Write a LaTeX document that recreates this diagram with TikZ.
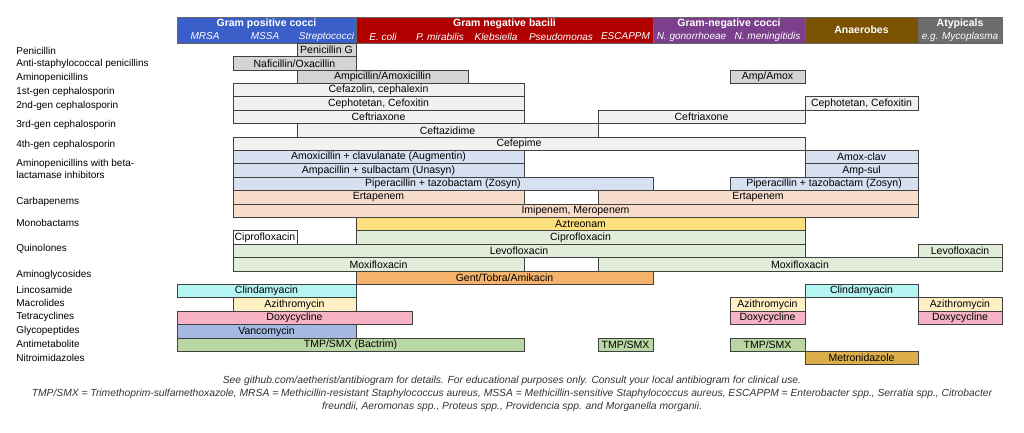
\documentclass[tikz,border=0pt]{standalone}
\usepackage{fontspec}
\setmainfont{Liberation Sans}
\usetikzlibrary{positioning}
\definecolor{gpos}{HTML}{3A5FC8}
\definecolor{gneg}{HTML}{B00000}
\definecolor{gnc}{HTML}{7B3F8C}
\definecolor{anae}{HTML}{7A5200}
\definecolor{atyp}{HTML}{6D6D6D}
\definecolor{cpen}{HTML}{D4D4D4}
\definecolor{ceph}{HTML}{F1F1F1}
\definecolor{cbli}{HTML}{D6E0F1}
\definecolor{carb}{HTML}{F8DCCB}
\definecolor{mono}{HTML}{FDE07E}
\definecolor{quin}{HTML}{E1EDD9}
\definecolor{amin}{HTML}{F5B26B}
\definecolor{linc}{HTML}{B4F5F3}
\definecolor{macr}{HTML}{FFF0C4}
\definecolor{tetr}{HTML}{F7B3C6}
\definecolor{glyc}{HTML}{A5B8E0}
\definecolor{anti}{HTML}{B8D7A3}
\definecolor{nitr}{HTML}{DCAE4A}
\tikzset{every picture/.style={line width=0.75pt}}
\tikzset{
  drug/.style={draw=black!75, inner sep=0pt, minimum height=13.4pt, font=\fontsize{10.5}{11}\selectfont},
  head/.style={draw=black!60, inner sep=0pt, text=white, align=center},
  cls/.style={anchor=west, inner sep=0pt, font=\fontsize{10}{12}\selectfont, align=left}
}
% one bar of the chart: name, row, left, right, colour, text
\newcommand\drugbar[6]{%
  \pgfmathsetmacro\bw{#4-#3}%
  \pgfmathsetmacro\bx{(#3+#4)/2}%
  \pgfmathsetmacro\by{49.9+13.4*#2}%
  \node[drug, fill=#5, minimum width=\bw pt] (#1) at (\bx,\by) {#6};}
% one header block: name, left, right, colour, text
\newcommand\headbar[5]{%
  \pgfmathsetmacro\bw{#3-#2}%
  \pgfmathsetmacro\bx{(#2+#3)/2}%
  \node[head, fill=#4, minimum width=\bw pt, minimum height=26pt] (#1) at (\bx,30) {#5};}

\begin{document}
\begin{tikzpicture}[x=1pt,y=1pt,yscale=-1,xscale=1]
\useasboundingbox (0,0) rectangle (1024,432);

%header blocks
\headbar{hgp}{177}{356}{gpos}{}
\headbar{hgn}{356}{653}{gneg}{}
\headbar{hgc}{653}{805}{gnc}{}
\headbar{han}{805}{918}{anae}{\bfseries\fontsize{10.5}{11}\selectfont Anaerobes}
\headbar{hat}{918}{1002}{atyp}{}
\node[text=white, font=\bfseries\fontsize{10.5}{11}\selectfont] (tgp) at (266.5,23.5) {Gram positive cocci};
\node[text=white, font=\bfseries\fontsize{10.5}{11}\selectfont] (tgn) at (504.5,23.5) {Gram negative bacili};
\node[text=white, font=\bfseries\fontsize{10.5}{11}\selectfont] (tgc) at (729,23.5) {Gram-negative cocci};
\node[text=white, font=\bfseries\fontsize{10.5}{11}\selectfont] (tat) at (960,23.5) {Atypicals};
\foreach \nm/\cx/\txt in {mrsa/205/MRSA, mssa/265/MSSA, strep/326.5/Streptococci, ecoli/383/E. coli, pmir/440/P. mirabilis, kleb/496/Klebsiella, pseu/561/Pseudomonas, escp/625.5/ESCAPPM, ngon/691.5/N. gonorrhoeae, nmen/767.5/N. meningitidis, myco/960/e.g. Mycoplasma}
  \node[text=white, font=\itshape\fontsize{10}{11}\selectfont, inner sep=0pt] (\nm) at (\cx,36.5) {\txt};

%class labels
\foreach \nm/\cy/\txt in {c1/51/Penicillin, c2/64/Anti-staphylococcal penicillins, c3/78/Aminopenicillins,
  c4/92/1st-gen cephalosporin, c5/106/2nd-gen cephalosporin, c6/125/3rd-gen cephalosporin,
  c7/145/4th-gen cephalosporin, c9/202/Carbapenems, c10/223/Monobactams, c11/249/Quinolones,
  c12/275/Aminoglycosides, c13/290/Lincosamide, c14/303/Macrolides, c15/317/Tetracyclines,
  c16/331/Glycopeptides, c17/344/Antimetabolite, c18/358/Nitroimidazoles}
  \node[cls] (\nm) at (16,\cy) {\txt};
\node[cls] (c8) at (16,169) {Aminopenicillins with beta-\\lactamase inhibitors};

%penicillins
\drugbar{penG}{0}{297}{356}{cpen}{Penicillin G}
\drugbar{naf}{1}{233}{356}{cpen}{Naficillin/Oxacillin}
\drugbar{amp}{2}{297}{468}{cpen}{Ampicillin/Amoxicillin}
\drugbar{ampb}{2}{730}{805}{cpen}{Amp/Amox}
%cephalosporins
\drugbar{cfz}{3}{233}{524}{ceph}{Cefazolin, cephalexin}
\drugbar{cft}{4}{233}{524}{ceph}{Cephotetan, Cefoxitin}
\drugbar{cftb}{4}{805}{918}{ceph}{Cephotetan, Cefoxitin}
\drugbar{cro}{5}{233}{524}{ceph}{Ceftriaxone}
\drugbar{crob}{5}{598}{805}{ceph}{Ceftriaxone}
\drugbar{caz}{6}{297}{598}{ceph}{Ceftazidime}
\drugbar{fep}{7}{233}{805}{ceph}{Cefepime}
%beta-lactamase inhibitors
\drugbar{amc}{8}{233}{524}{cbli}{Amoxicillin + clavulanate (Augmentin)}
\drugbar{amcb}{8}{805}{918}{cbli}{Amox-clav}
\drugbar{sam}{9}{233}{524}{cbli}{Ampacillin + sulbactam (Unasyn)}
\drugbar{samb}{9}{805}{918}{cbli}{Amp-sul}
\drugbar{tzp}{10}{233}{653}{cbli}{Piperacillin + tazobactam (Zosyn)}
\drugbar{tzpb}{10}{730}{918}{cbli}{Piperacillin + tazobactam (Zosyn)}
%carbapenems
\drugbar{etp}{11}{233}{524}{carb}{Ertapenem}
\drugbar{etpb}{11}{598}{918}{carb}{Ertapenem}
\drugbar{ipm}{12}{233}{918}{carb}{Imipenem, Meropenem}
\drugbar{atm}{13}{356}{805}{mono}{Aztreonam}
%quinolones
\drugbar{cip}{14}{233}{297}{white}{Ciprofloxacin}
\drugbar{cipb}{14}{356}{805}{quin}{Ciprofloxacin}
\drugbar{lvx}{15}{233}{805}{quin}{Levofloxacin}
\drugbar{lvxb}{15}{918}{1002}{quin}{Levofloxacin}
\drugbar{mxf}{16}{233}{524}{quin}{Moxifloxacin}
\drugbar{mxfb}{16}{598}{1002}{quin}{Moxifloxacin}
\drugbar{gen}{17}{356}{653}{amin}{Gent/Tobra/Amikacin}
%others
\drugbar{cli}{18}{177}{356}{linc}{Clindamyacin}
\drugbar{clib}{18}{805}{918}{linc}{Clindamyacin}
\drugbar{azm}{19}{233}{356}{macr}{Azithromycin}
\drugbar{azmb}{19}{730}{805}{macr}{Azithromycin}
\drugbar{azmc}{19}{918}{1002}{macr}{Azithromycin}
\drugbar{dox}{20}{177}{412}{tetr}{Doxycycline}
\drugbar{doxb}{20}{730}{805}{tetr}{Doxycycline}
\drugbar{doxc}{20}{918}{1002}{tetr}{Doxycycline}
\drugbar{van}{21}{177}{356}{glyc}{Vancomycin}
\drugbar{sxt}{22}{177}{524}{anti}{TMP/SMX (Bactrim)}
\drugbar{sxtb}{22}{598}{653}{anti}{TMP/SMX}
\drugbar{sxtc}{22}{730}{805}{anti}{TMP/SMX}
\drugbar{mtz}{23}{805}{918}{nitr}{Metronidazole}

%footnote
\node[font=\itshape\fontsize{10.3}{13}\selectfont, align=center, text=black!80] (note) at (512,394)
  {See github.com/aetherist/antibiogram for details. For educational purposes only. Consult your local antibiogram for clinical use.\\
   TMP/SMX = Trimethoprim-sulfamethoxazole, MRSA = Methicillin-resistant Staphylococcus aureus, MSSA = Methicillin-sensitive Staphylococcus aureus, ESCAPPM = Enterobacter spp., Serratia spp., Citrobacter\\
   freundii, Aeromonas spp., Proteus spp., Providencia spp. and Morganella morganii.};
\end{tikzpicture}
\end{document}
